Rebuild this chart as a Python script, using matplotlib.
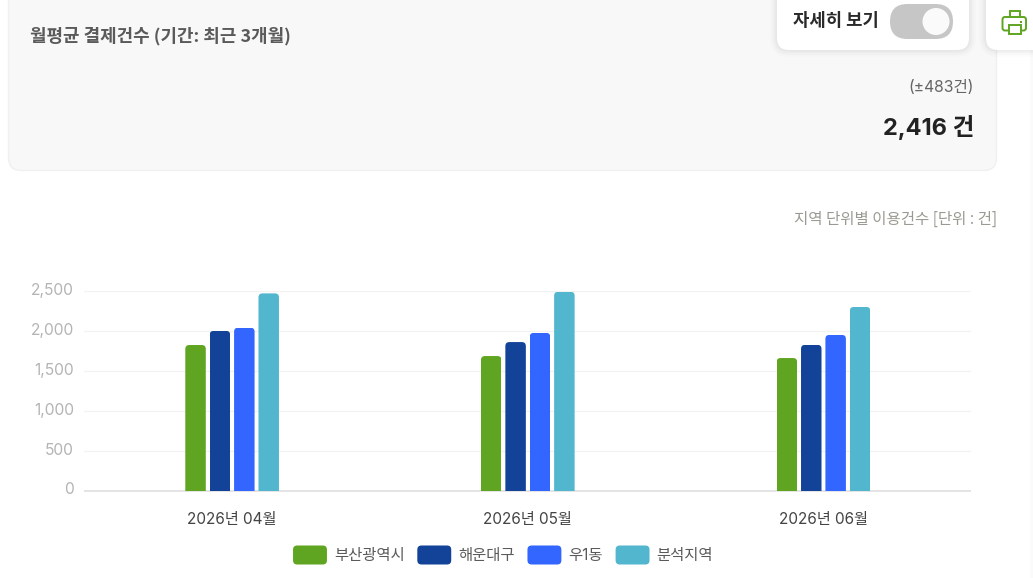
import matplotlib
matplotlib.use("Agg")
import matplotlib.pyplot as plt
from matplotlib.patches import FancyBboxPatch, Rectangle, Circle
from matplotlib.legend_handler import HandlerPatch
from matplotlib.ticker import FuncFormatter
from matplotlib.transforms import ScaledTranslation

plt.rcParams['font.family'] = ['Inter', 'Noto Sans CJK KR', 'DejaVu Sans']
KR = ['Noto Sans CJK KR', 'DejaVu Sans']

months = ['2026년 04월', '2026년 05월', '2026년 06월']
series_names = ['부산광역시', '해운대구', '우1동', '분석지역']
busan = [1823, 1685, 1660]
haeundae = [2000, 1860, 1825]
u1dong = [2040, 1975, 1950]
analysis = [2470, 2490, 2300]
series_values = [busan, haeundae, u1dong, analysis]
colors = ['#5FA521', '#134299', '#3366FF', '#51B6CE']
y_ticks = [0, 500, 1000, 1500, 2000, 2500]

W, H = 1033, 578
fig = plt.figure(figsize=(W / 100, H / 100), dpi=100, facecolor='white')

# page furniture, laid out in pixel coordinates
bg = fig.add_axes([0, 0, 1, 1], zorder=0)
bg.set_xlim(0, W); bg.set_ylim(H, 0); bg.axis('off')

def rbox(x0, y0, x1, y1, r, **kw):
    p = FancyBboxPatch((x0 + r, y0 + r), x1 - x0 - 2 * r, y1 - y0 - 2 * r,
                       boxstyle=f"round,pad={r},rounding_size={r}", **kw)
    bg.add_patch(p)
    return p

bg.add_patch(Rectangle((1030, 0), 3, H, fc='#FAFAFA', ec='none'))
rbox(8.5, -30, 996.5, 170.5, 13, fc='#F8F8F8', ec='#F0F0F0', lw=1)

for x0, x1 in [(777, 969), (986, 1060)]:
    for grow, alpha in [(7, .01), (5, .014), (3, .018), (1.5, .02)]:
        rbox(x0 - grow, -30, x1 + grow, 50 + grow, 12 + grow, fc='black', ec='none', alpha=alpha)
    rbox(x0, -30, x1, 50, 12, fc='white', ec='none')

# toggle
rbox(890, 4, 953, 39, 17.5, fc='#C6C6C6', ec='none')
bg.add_patch(Circle((936, 21.5), 13.5, fc='#FAFAFA', ec='none'))

# printer icon
g = '#5FA521'
rbox(1002.5, 17, 1026, 30.5, 2.5, fc='none', ec=g, lw=1.4)
bg.add_patch(Rectangle((1010, 11), 10, 6, fc='white', ec=g, lw=1.4))
bg.add_patch(Rectangle((1009, 25), 12, 8.5, fc='white', ec=g, lw=1.4))
bg.add_patch(Rectangle((1020, 20.5), 2, 2, fc=g, ec='none'))

bg.text(30, 36.5, '월평균 결제건수 (기간: 최근 3개월)', fontsize=12.9, fontweight='bold',
        color='#5A5A5A', va='center', ha='left', family=KR)
bg.text(793, 21, '자세히 보기', fontsize=12.8, fontweight='bold', color='#2A2A2A',
        va='center', ha='left', family=KR)
bg.text(974, 88, '(±483건)', fontsize=11.3, color='#666666', va='center', ha='right')
bg.text(974, 128, '2,416 건', fontsize=17, fontweight='bold', color='#222222',
        va='center', ha='right')
bg.text(997, 219, '지역 단위별 이용건수 [단위 : 건]', fontsize=11.2, color='#9A9A92',
        va='center', ha='right', family=KR)

# chart
ax = fig.add_axes([84 / W, 1 - 490.5 / H, (971 - 84) / W, (490.5 - 291) / H], zorder=1)
ax.patch.set_alpha(0)
ax.set_xlim(-0.5, 2.5)
ax.set_ylim(0, 2500)

bar_w, step = 0.0693, 0.0825
px_per_x = (971 - 84) / 3
px_per_y = (490.5 - 291) / 2500
radius_x = 4 / px_per_x
aspect = px_per_x / px_per_y

handles = []
for i, (name, vals, col) in enumerate(zip(series_names, series_values, colors)):
    xs = [m + (i - 1.5) * step + 0.001 for m in range(len(months))]
    bars = ax.bar(xs, vals, width=bar_w, color=col, label=name, zorder=3)
    handles.append(bars[0])
    for b in bars:
        overshoot = 300
        clip = FancyBboxPatch((b.get_x(), -overshoot), b.get_width(), b.get_height() + overshoot,
                              boxstyle=f"round,pad=0,rounding_size={radius_x}",
                              mutation_aspect=aspect, transform=ax.transData)
        b.set_clip_path(clip)

ax.set_xticks(range(len(months)), months)
ax.set_yticks(y_ticks)
ax.yaxis.set_major_formatter(FuncFormatter(lambda v, _: f'{int(v):,}'))
ax.grid(axis='y', color='#F2F2F2', lw=0.9, zorder=0)
ax.set_axisbelow(True)
for s in ['top', 'right', 'left']:
    ax.spines[s].set_visible(False)
ax.spines['bottom'].set_color('#E4E4E4')
ax.spines['bottom'].set_linewidth(1.4)
ax.spines['bottom'].set_capstyle('butt')
ax.tick_params(axis='both', length=0)
ax.tick_params(axis='y', labelsize=11.2, labelcolor='#B4B4B4', pad=7.2)
ax.tick_params(axis='x', labelsize=11, labelcolor='#444444', pad=15.5)
shift = ScaledTranslation(0, 2 / 100, fig.dpi_scale_trans)
for t in ax.get_yticklabels():
    t.set_transform(t.get_transform() + shift)

def make_handle(legend, orig_handle, xdescent, ydescent, width, height, fontsize):
    return FancyBboxPatch((-xdescent + 3, -ydescent + 3), width - 6, height - 6,
                          boxstyle="round,pad=3,rounding_size=3")

leg = ax.legend(handles, series_names, ncol=4, frameon=False, fontsize=11.1,
                loc='center', bbox_to_anchor=(503 / W, 1 - 555 / H),
                bbox_transform=fig.transFigure,
                handlelength=2.2, handleheight=1.52, handletextpad=0.45, columnspacing=0.83,
                labelcolor='#5A5A5A', borderpad=0,
                handler_map={h: HandlerPatch(patch_func=make_handle) for h in handles})

fig.savefig('out.png', dpi=100, facecolor='white')
